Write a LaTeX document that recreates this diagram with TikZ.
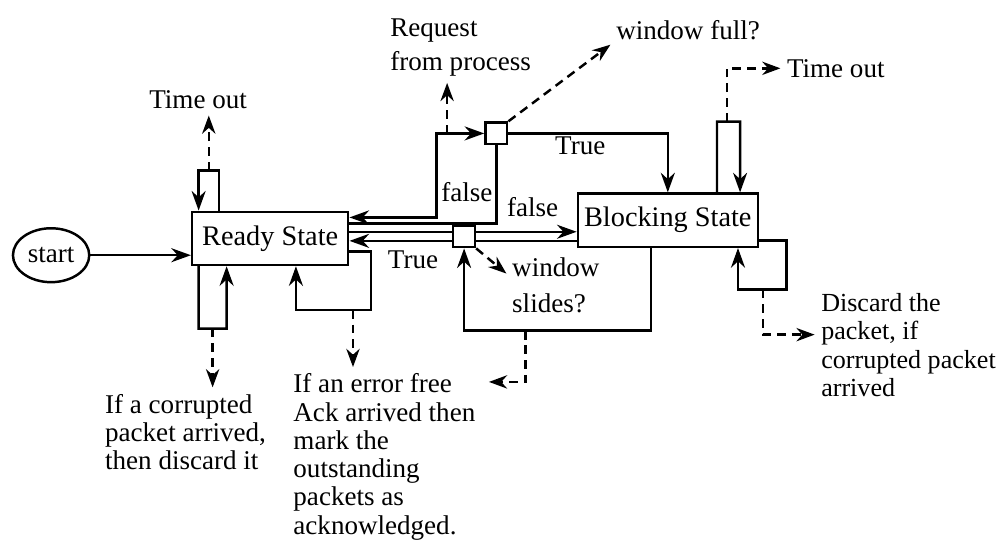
\documentclass[tikz,border=0pt]{standalone}
\usepackage{fontspec}
\setmainfont{Liberation Serif}
\usetikzlibrary{arrows.meta,positioning,calc,shapes.geometric}
\tikzset{
  statebox/.style={draw, line width=1pt, minimum height=7.6mm, inner sep=2pt, font=\fontsize{11.5}{12}\selectfont},
  checkbox/.style={draw, line width=1pt, minimum size=3.1mm, inner sep=0pt},
  startnode/.style={draw, line width=1pt, ellipse, minimum width=10.9mm, minimum height=7.7mm, inner sep=0pt},
  note/.style={align=left, inner sep=1pt},
  link/.style={line width=1pt},
  arrow/.style={-{Stealth[length=2.8mm,width=2mm]}, line width=1pt},
  twoway/.style={{Stealth[length=2.8mm,width=2mm]}-{Stealth[length=2.8mm,width=2mm]}, line width=1pt},
  dasharrow/.style={-{Stealth[length=2.6mm,width=1.9mm]}, line width=1pt, dash pattern=on 3.6pt off 2.4pt, shorten >=1.5pt}
}
\begin{document}
\begin{tikzpicture}[font=\fontsize{11}{11.5}\selectfont]
  \useasboundingbox (0,0) rectangle (14.3,7.886);

  % states and check boxes
  \node[startnode] (start) at (0.73,4.24) {start};
  \node[statebox, minimum width=22.3mm] (ready) at (3.86,4.48) {Ready State};
  \node[statebox, minimum width=25.7mm] (blocking) at (9.54,4.74) {Blocking State};
  \node[checkbox] (fullbox) at (7.09,5.98) {};
  \node[checkbox] (slidebox) at (6.63,4.51) {};

  % event and action texts
  \node[note] (toutL) at (2.83,6.46) {Time out};
  \node[note] (request) at (6.58,7.21) {Request\\[2.5pt]from process};
  \node[note] (wfull) at (9.83,7.46) {window full?};
  \node[note] (toutR) at (11.94,6.91) {Time out};
  \node[note] (wslide) at (7.94,3.81) {window\\[3pt]slides?};
  \node[note, anchor=north west] (corrupt) at (1.46,2.30) {If a corrupted\\packet arrived,\\then discard it};
  \node[note, anchor=north west] (ack) at (4.15,2.59) {If an error free\\Ack arrived then\\mark the\\outstanding\\packets as\\acknowledged.};
  \node[note, anchor=north west, font=\fontsize{10.6}{11.6}\selectfont] (discard) at (11.69,3.74) {Discard the\\packet, if\\corrupted packet\\arrived};
  \node (falseU) at (6.67,5.14) {false};
  \node (trueU) at (8.29,5.80) {True};
  \node (falseL) at (7.61,4.93) {false};
  \node (trueL) at (5.90,4.17) {True};

  % ready state
  \draw[arrow] (start) -- (start -| ready.west);
  \draw[arrow] ([xshift=4mm]ready.north west) -- ++(0,5.7mm) -- ++(-1.45mm,0) coordinate (toutfoot) -- ++(-1.45mm,0) -- ([xshift=1.1mm]ready.north west);
  \draw[dasharrow] (toutfoot) -- (toutfoot |- toutL.south);
  \draw[arrow] ([xshift=1.1mm]ready.south west) -- ++(0,-8.9mm) -- ++(2mm,0) coordinate (corruptfoot) -- ++(2mm,0) -- ([xshift=5.1mm]ready.south west);
  \draw[dasharrow] (corruptfoot) -- (corruptfoot |- corrupt.north);
  \draw[arrow] ([yshift=-1.9mm]ready.east) -- ++(3.1mm,0) -- ++(0,-8.3mm) -- ++(-2.6mm,0) coordinate (ackfoot) -| ([xshift=15mm]ready.south west);
  \draw[dasharrow] (ackfoot) -- (ackfoot |- ack.north);

  % request from process
  \draw[twoway] ([yshift=3mm]ready.east) -- ++(12.4mm,0) |- (fullbox.west);
  \coordinate (reqfoot) at ([xshift=-5.3mm]fullbox.west);
  \draw[dasharrow] (reqfoot) -- (reqfoot |- request.south);
  \draw[dasharrow] (fullbox.north east) -- (wfull.south west);
  \draw[link] (fullbox.south) |- ([yshift=2.1mm]ready.east);
  \draw[arrow] (fullbox.east) -| (blocking.north);

  % window slides check
  \coordinate (slideup) at ([yshift=0.65mm]slidebox.west);
  \coordinate (slidedown) at ([yshift=-0.65mm]slidebox.west);
  \coordinate (slideupR) at ([yshift=0.65mm]slidebox.east);
  \coordinate (slidedownR) at ([yshift=-0.65mm]slidebox.east);
  \draw[link] (ready.east |- slideup) -- (slideup);
  \draw[arrow] (slidedown) -- (ready.east |- slidedown);
  \draw[arrow] (slideupR) -- (blocking.west |- slideupR);
  \draw[link] (slidedownR) -- (blocking.west |- slidedownR);
  \draw[dasharrow] (slidebox.south east) -- ([yshift=-3mm]wslide.north west);

  % blocking state
  \draw[arrow] ([xshift=-2.4mm]blocking.south) -- ++(0,-11.8mm) -- ++(-17.9mm,0) coordinate (slidefoot) -| (slidebox.south);
  \coordinate (ackmark) at ([xshift=1mm,yshift=-1.6mm]ack.north east);
  \draw[dasharrow] (slidefoot) |- (ackmark);
  \draw[arrow] ([xshift=-6mm]blocking.north east) -- ++(0,10.1mm) -- ++(1.4mm,0) coordinate (blockfoot) -- ++(1.9mm,0) -- ([xshift=-2.7mm]blocking.north east);
  \draw[dasharrow] (blockfoot) |- (toutR.west);
  \draw[arrow] ([yshift=-2.9mm]blocking.east) -- ++(3.9mm,0) -- ++(0,-7mm) -- ++(-3.3mm,0) coordinate (discardfoot) -| ([xshift=-3mm]blocking.south east);
  \coordinate (discardmark) at ([yshift=1.5mm]discard.west);
  \draw[dasharrow] (discardfoot) |- (discardmark);
\end{tikzpicture}
\end{document}
